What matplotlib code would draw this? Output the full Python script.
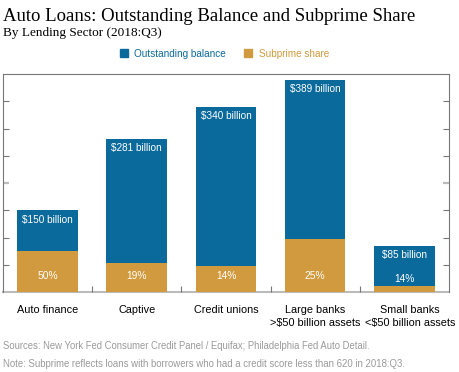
import numpy as np
import matplotlib.pyplot as plt
from matplotlib.lines import Line2D

# data
sectors = ['Auto finance', 'Captive', 'Credit unions',
           'Large banks\n>$50 billion assets', 'Small banks\n<$50 billion assets']
balance = np.array([150, 281, 340, 389, 85])          # $ billion
subprime_share = np.array([50, 19, 14, 25, 14])       # percent

blue = '#0b6a9c'
gold = '#d19a3e'

subprime = balance * subprime_share / 100.0
rest = balance - subprime

fig = plt.figure(figsize=(4.6, 3.72), dpi=100)
ax = fig.add_axes([0.0065, 0.215, 0.9695, 0.586])

x = np.arange(len(sectors))
ax.bar(x, subprime, width=0.68, color=gold)
ax.bar(x, rest, bottom=subprime, width=0.68, color=blue)

# labels inside the bars
for i in range(len(sectors)):
    ax.text(x[i], balance[i] - 8, f'${balance[i]} billion', ha='center', va='top',
            color='white', fontsize=7.2, family='Liberation Sans')
    yl = 24 if subprime[i] < 20 else 29
    ax.text(x[i], yl, f'{subprime_share[i]}%', ha='center', va='center',
            color='white', fontsize=7.4, family='Liberation Sans')

ax.set_xlim(-0.5, len(sectors) - 0.5)
ax.set_ylim(0, 400)

# category labels (last one sits a little to the right, as in the original)
shift = [0, 0, 0, 0, 0.06]
for i, name in enumerate(sectors):
    ax.text(x[i] + shift[i], -23, name, ha='center', va='top', fontsize=7.8,
            family='Liberation Sans', linespacing=1.4)
ax.set_xticks(x[:-1] + 0.5)
ax.set_xticklabels([])
ax.tick_params(axis='x', direction='in', length=4, width=0.8, color='#777777')

ax.set_yticks(np.arange(50, 400, 50))
ax.tick_params(axis='y', direction='in', length=4, color='#777777',
               left=True, right=True, labelleft=False)
mid = ax.yaxis.get_major_ticks()[3]
for ln in (mid.tick1line, mid.tick2line):
    ln.set_markeredgecolor('#bbbbbb')
    ln.set_markeredgewidth(1.6)

for s in ['left', 'right', 'top']:
    ax.spines[s].set_color('#777777')
    ax.spines[s].set_linewidth(0.8)
ax.spines['bottom'].set_color('#bbbbbb')
ax.spines['bottom'].set_linewidth(1.5)
ax.spines['bottom'].set_zorder(0.5)

# titles
fig.text(0.007, 0.978, 'Auto Loans: Outstanding Balance and Subprime Share',
         fontsize=13.5, family='Liberation Serif', va='top', ha='left')
fig.text(0.007, 0.928, 'By Lending Sector (2018:Q3)',
         fontsize=9.5, family='Liberation Serif', va='top', ha='left')

# legend
handles = [Line2D([], [], marker='s', ls='', color=blue, markersize=5.5),
           Line2D([], [], marker='s', ls='', color=gold, markersize=5.5)]
fig.legend(handles, ['Outstanding balance', 'Subprime share'], loc='center',
           bbox_to_anchor=(0.484, 0.855), ncol=2, frameon=False, handletextpad=0.3,
           handlelength=1.5, columnspacing=1.5, labelcolor=[blue, gold],
           prop={'family': 'Liberation Sans', 'size': 7.2})

# notes
fig.text(0.007, 0.07, 'Sources: New York Fed Consumer Credit Panel / Equifax; Philadelphia Fed Auto Detail.',
         fontsize=6.85, color='#9a9a9a', family='Liberation Sans', va='center')
fig.text(0.007, 0.022, 'Note: Subprime reflects loans with borrowers who had a credit score less than 620 in 2018:Q3.',
         fontsize=6.9, color='#9a9a9a', family='Liberation Sans', va='center')

plt.savefig('out.png', dpi=100)
plt.close()
